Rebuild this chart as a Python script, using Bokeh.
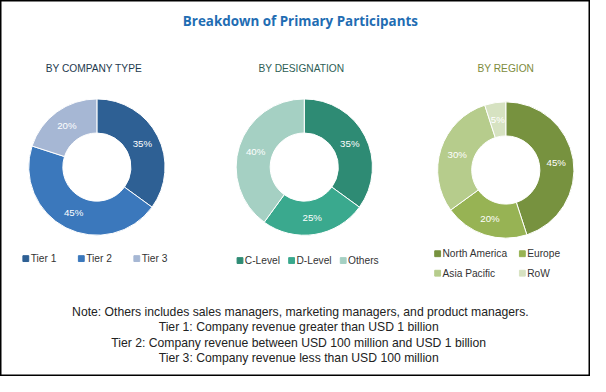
import numpy as np
from bokeh.plotting import figure
from bokeh.models import Range1d, ColumnDataSource
from bokeh.core.properties import value
from bokeh.embed import file_html
from bokeh.resources import INLINE

# ---- data ----
company_types = ["Tier 1", "Tier 2", "Tier 3"]
company_shares = [35, 45, 20]
designations = ["C-Level", "D-Level", "Others"]
designation_shares = [35, 25, 40]
regions = ["North America", "Europe", "Asia Pacific", "RoW"]
region_shares = [45, 20, 30, 5]

company_colors = ["#2E6094", "#3B78BC", "#A6B7D4"]
designation_colors = ["#2E8B74", "#3AA98E", "#A5D0C3"]
region_colors = ["#77923F", "#97B354", "#B6CC8C", "#D6E2C1"]

title = "Breakdown of Primary Participants"
subtitles = ["BY COMPANY TYPE", "BY DESIGNATION", "BY REGION"]
subtitle_colors = ["#1E3A4E", "#2E5E55", "#7D8B3C"]
notes = [
    "Note: Others includes sales managers, marketing managers, and product managers.",
    "Tier 1: Company revenue  greater than USD 1 billion",
    "Tier 2: Company revenue  between USD 100 million and USD 1 billion",
    "Tier 3: Company revenue  less than USD 100 million",
]

FONT = "'Liberation Sans', Arial, sans-serif"
W, H = 606, 392
PW, PH = 590, 376
s = PW / W
yspan = PH / s

def fs(px):
    return f"{px * s:.1f}px"

p = figure(width=PW, height=PH, output_backend="svg", toolbar_location=None,
           x_range=Range1d(0, W),
           y_range=Range1d(H / 2 - yspan / 2, H / 2 + yspan / 2),
           min_border=0)
p.axis.visible = False
p.grid.visible = False
p.outline_line_color = "black"
p.outline_line_width = 2
p.background_fill_color = "white"
p.border_fill_color = "white"

def Y(y):
    return H - y

# title
p.text(x=[308], y=[Y(24)], text=[title], text_font=value("'Open Sans', sans-serif"),
       text_font_style="bold", text_font_size=fs(13.8), text_color="#1F6DB3",
       text_align="center", text_baseline="middle")

donuts = [
    dict(cx=99, cy=174, vals=company_shares, cats=company_types, cols=company_colors,
         sub_x=96, legend=[(23, 268), (80, 268), (137, 268)]),
    dict(cx=312, cy=174, vals=designation_shares, cats=designations, cols=designation_colors,
         sub_x=309, legend=[(243, 270), (296, 270), (349, 270)]),
    dict(cx=519, cy=177, vals=region_shares, cats=regions, cols=region_colors,
         sub_x=519, legend=[(446, 263), (533, 263), (446, 283), (533, 283)]),
]

r_in, r_out = 35, 70
for i, d in enumerate(donuts):
    vals = np.array(d["vals"], dtype=float)
    frac = vals / vals.sum()
    c1 = np.cumsum(frac)
    c0 = c1 - frac
    start = np.pi / 2 - 2 * np.pi * c0
    end = np.pi / 2 - 2 * np.pi * c1
    mid = (start + end) / 2
    src = ColumnDataSource(dict(x=[d["cx"]] * len(vals), y=[Y(d["cy"])] * len(vals),
                                start=start, end=end, color=d["cols"]))
    p.annular_wedge(x="x", y="y", inner_radius=r_in, outer_radius=r_out,
                    start_angle="start", end_angle="end", direction="clock",
                    fill_color="color", line_color="white", line_width=1, source=src)
    rm = (r_in + r_out) / 2
    lx = d["cx"] + rm * np.cos(mid)
    ly = Y(d["cy"]) + rm * np.sin(mid)
    p.text(x=lx, y=ly, text=[f"{int(v)}%" for v in vals], text_color="white",
           text_font=value(FONT), text_font_size=fs(10),
           text_align="center", text_baseline="middle")
    # subtitle
    p.text(x=[d["sub_x"]], y=[Y(73)], text=[subtitles[i]], text_color=subtitle_colors[i],
           text_font=value(FONT), text_font_size=fs(10.5),
           text_align="center", text_baseline="middle")
    # legend
    for (lx0, ly0), cat, col in zip(d["legend"], d["cats"], d["cols"]):
        p.scatter(x=[lx0 + 3], y=[Y(ly0)], marker="square", size=6 * s,
                  fill_color=col, line_color=col)
        p.text(x=[lx0 + 8], y=[Y(ly0)], text=[cat], text_color="#333333",
               text_font=value(FONT), text_font_size=fs(10.5),
               text_align="left", text_baseline="middle")

# notes
for k, line in enumerate(notes):
    p.text(x=[308], y=[Y(323 + k * 15.7)], text=[line], text_color="#222222",
           text_font=value(FONT), text_font_size=fs(12.5),
           text_align="center", text_baseline="middle")

open("out.html", "w").write(file_html(p, INLINE))
